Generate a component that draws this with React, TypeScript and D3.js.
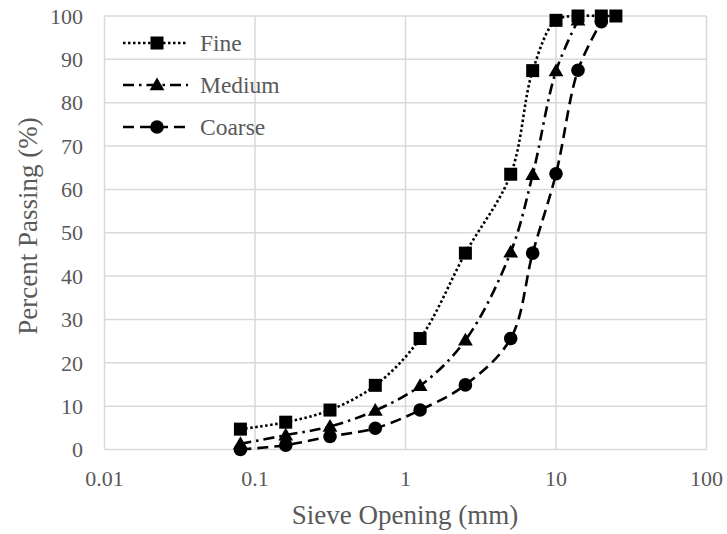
import React from 'react';
import * as d3 from 'd3';

// sieve sizes (mm) and percent passing
const fineSizes = [0.08, 0.16, 0.315, 0.63, 1.25, 2.5, 5, 7, 10, 14, 20, 25];
const finePassing = [4.7, 6.3, 9.1, 14.8, 25.6, 45.3, 63.5, 87.4, 99, 100, 100, 100];

const mediumSizes = [0.08, 0.16, 0.315, 0.63, 1.25, 2.5, 5, 7, 10, 14];
const mediumPassing = [1.3, 3.3, 5.3, 9.0, 14.7, 25.2, 45.5, 63.4, 87.3, 99];

const coarseSizes = [0.08, 0.16, 0.315, 0.63, 1.25, 2.5, 5, 7, 10, 14, 20];
const coarsePassing = [0, 1.0, 3.0, 4.9, 9.1, 14.9, 25.6, 45.3, 63.6, 87.5, 98.7];

const xTicks = [0.01, 0.1, 1, 10, 100];
const xTickLabels = ['0.01', '0.1', '1', '10', '100'];
const yTicks = [0, 10, 20, 30, 40, 50, 60, 70, 80, 90, 100];

const seriesNames = ['Fine', 'Medium', 'Coarse'];

const W = 727;
const H = 534;
const FONT = '"Liberation Serif", "Times New Roman", serif';
const GRAY = '#595959';
const GRID = '#d9d9d9';

const x = d3.scaleLog().domain([0.01, 100]).range([104.5, 706.5]);
const y = d3.scaleLinear().domain([0, 100]).range([449.5, 16]);

const dashes: Record<string, string> = {
  Fine: '2.5 2.5',
  Medium: '11 5 2.5 5',
  Coarse: '11 6',
};

function Marker({ kind, cx, cy }: { kind: string; cx: number; cy: number }) {
  if (kind === 'Fine') {
    const s = 13;
    return <rect x={cx - s / 2} y={cy - s / 2} width={s} height={s} fill="#000" />;
  }
  if (kind === 'Medium') {
    const path = d3.symbol(d3.symbolTriangle, 95)();
    return <path d={path || ''} transform={`translate(${cx},${cy + 1})`} fill="#000" />;
  }
  return <circle cx={cx} cy={cy} r={6.8} fill="#000" />;
}

export default function App() {
  const series = [
    { name: 'Fine', sizes: fineSizes, vals: finePassing },
    { name: 'Medium', sizes: mediumSizes, vals: mediumPassing },
    { name: 'Coarse', sizes: coarseSizes, vals: coarsePassing },
  ];

  const line = d3
    .line<[number, number]>()
    .x(d => x(d[0]))
    .y(d => y(d[1]))
    .curve(d3.curveCatmullRom.alpha(0.5));

  const legendY = [43, 85, 127];

  return (
    <svg
      width={W}
      height={H}
      style={{ position: 'absolute', left: 0, top: 0, background: '#fff' }}
      fontFamily={FONT}
    >
      {/* gridlines */}
      {yTicks.map(t => (
        <line key={'gy' + t} x1={x(0.01)} x2={x(100)} y1={y(t)} y2={y(t)} stroke={GRID} strokeWidth={1.5} />
      ))}
      {xTicks.map(t => (
        <line key={'gx' + t} x1={x(t)} x2={x(t)} y1={y(0)} y2={y(100)} stroke={GRID} strokeWidth={1.5} />
      ))}

      {/* tick labels */}
      {yTicks.map(t => (
        <text key={'ty' + t} x={83} y={y(t)} dy="0.35em" textAnchor="end" fontSize={22} fill={GRAY}>
          {t}
        </text>
      ))}
      {xTicks.map((t, i) => (
        <text key={'tx' + t} x={x(t)} y={486} textAnchor="middle" fontSize={22} fill={GRAY}>
          {xTickLabels[i]}
        </text>
      ))}

      {/* axis titles */}
      <text x={405} y={524} textAnchor="middle" fontSize={27} fill={GRAY}>
        Sieve Opening (mm)
      </text>
      <text transform="translate(36.5,226) rotate(-90)" textAnchor="middle" fontSize={27} fill={GRAY}>
        Percent Passing (%)
      </text>

      {/* series */}
      {series.map(s => {
        const pts = s.sizes.map((v, i) => [v, s.vals[i]] as [number, number]);
        return (
          <g key={s.name}>
            <path d={line(pts) || ''} fill="none" stroke="#000" strokeWidth={2.6} strokeDasharray={dashes[s.name]} />
            {pts.map((p, i) => (
              <Marker key={i} kind={s.name} cx={x(p[0])} cy={y(p[1])} />
            ))}
          </g>
        );
      })}

      {/* legend */}
      {seriesNames.map((n, i) => (
        <g key={'lg' + n}>
          <line x1={123} x2={188} y1={legendY[i]} y2={legendY[i]} stroke="#000" strokeWidth={2.6} strokeDasharray={dashes[n]} />
          <Marker kind={n} cx={157} cy={legendY[i]} />
          <text x={200} y={legendY[i]} dy="0.35em" fontSize={23.5} fill={GRAY}>
            {n}
          </text>
        </g>
      ))}
    </svg>
  );
}
